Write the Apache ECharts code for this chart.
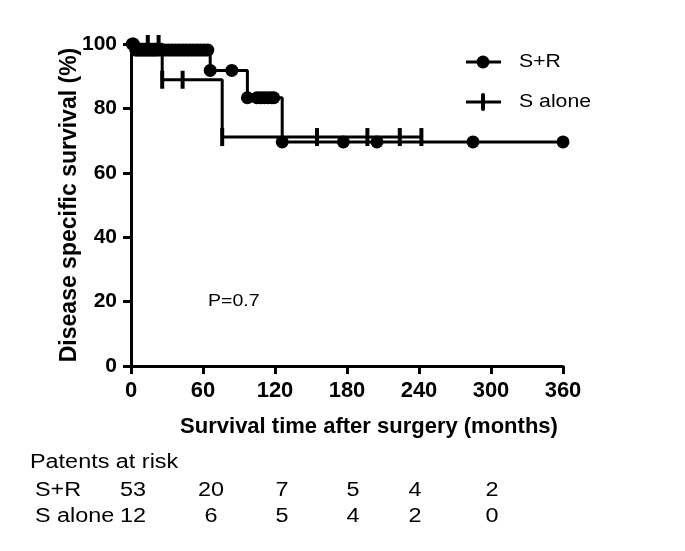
<!DOCTYPE html>
<html><head><meta charset="utf-8">
<script src="https://cdn.jsdelivr.net/npm/echarts@6/dist/echarts.min.js"></script>
<style>html,body{margin:0;padding:0;background:#fff}#c{width:685px;height:551px}</style>
</head><body><div id="c"></div>
<script>
// Kaplan-Meier step curves (time in months, survival in %)
var srTimes = [0, 3, 66, 97, 126, 360];
var srSurv  = [100, 98.1, 91.8, 83.3, 69.6, 69.6];
var saTimes = [0, 26, 76, 242];
var saSurv  = [100, 88.9, 71.1, 71.1];
// censor marks
var srCensorT = [1, 2, 4, 6, 8, 10, 12, 14, 16, 18, 20, 22, 25, 28, 31, 34, 37, 40, 43, 46, 49, 52, 55, 58, 61, 64, 66, 84, 97, 105, 108, 111, 114, 117, 119, 126, 177, 205, 285, 360];
var srCensorS = [100, 100, 98.1, 98.1, 98.1, 98.1, 98.1, 98.1, 98.1, 98.1, 98.1, 98.1, 98.1, 98.1, 98.1, 98.1, 98.1, 98.1, 98.1, 98.1, 98.1, 98.1, 98.1, 98.1, 98.1, 98.1, 91.8, 91.8, 83.3, 83.3, 83.3, 83.3, 83.3, 83.3, 83.3, 69.6, 69.6, 69.6, 69.6, 69.6];
var saCensorT = [14, 23, 26, 43, 76, 155, 197, 224, 242];
var saCensorS = [100, 100, 88.9, 88.9, 71.1, 71.1, 71.1, 71.1, 71.1];
// axes
var xTicks = [0, 60, 120, 180, 240, 300, 360];
var yTicks = [0, 20, 40, 60, 80, 100];
// risk table
var riskGroups = ['S+R', 'S alone'];
var riskSR = [53, 20, 7, 5, 4, 2];
var riskSA = [12, 6, 5, 4, 2, 0];
var groupNames = ['S+R', 'S alone'];
var pText = 'P=0.7';

function zip(a, b) { return a.map(function (v, i) { return [v, b[i]]; }); }

var chart = echarts.init(document.getElementById('c'));
var riskX = [133, 211, 282, 353, 415, 492];
var graphics = [];
// legend
graphics.push({type:'line', shape:{x1:466,y1:62,x2:501,y2:62}, style:{stroke:'#000',lineWidth:3}});
graphics.push({type:'circle', shape:{cx:483,cy:62,r:6.5}, style:{fill:'#000'}});
graphics.push({type:'text', x:519, y:62, scaleX:1.18, style:{text:groupNames[0], font:'18px "Liberation Sans", Arial, sans-serif', fill:'#000', textVerticalAlign:'middle'}});
graphics.push({type:'line', shape:{x1:466,y1:102,x2:501,y2:102}, style:{stroke:'#000',lineWidth:3}});
graphics.push({type:'rect', shape:{x:481,y:93,width:4,height:18,r:2}, style:{fill:'#000'}});
graphics.push({type:'text', x:519, y:102, scaleX:1.18, style:{text:groupNames[1], font:'18px "Liberation Sans", Arial, sans-serif', fill:'#000', textVerticalAlign:'middle'}});
// p value
graphics.push({type:'text', x:208, y:301, scaleX:1.15, style:{text:pText, font:'17px "Liberation Sans", Arial, sans-serif', fill:'#000', textVerticalAlign:'middle'}});
// risk table
var tf = '20px "Liberation Sans", Arial, sans-serif';
graphics.push({type:'text', x:30, y:462, scaleX:1.17, style:{text:'Patents at risk', font:tf, fill:'#000', textVerticalAlign:'middle'}});
graphics.push({type:'text', x:35, y:490, scaleX:1.17, style:{text:riskGroups[0], font:tf, fill:'#000', textVerticalAlign:'middle'}});
graphics.push({type:'text', x:35, y:516, scaleX:1.17, style:{text:riskGroups[1], font:tf, fill:'#000', textVerticalAlign:'middle'}});
riskSR.forEach(function (v, i) {
  graphics.push({type:'text', x:riskX[i], y:490, scaleX:1.17, style:{text:String(v), font:tf, fill:'#000', textAlign:'center', textVerticalAlign:'middle'}});
});
riskSA.forEach(function (v, i) {
  graphics.push({type:'text', x:riskX[i], y:516, scaleX:1.17, style:{text:String(v), font:tf, fill:'#000', textAlign:'center', textVerticalAlign:'middle'}});
});

var axisFont = {fontFamily:'"Liberation Sans", Arial, sans-serif', fontWeight:'bold', color:'#000'};
chart.setOption({
  animation: false,
  backgroundColor: '#fff',
  grid: {left:131, right:122, top:44, bottom:185, containLabel:false},
  xAxis: {
    type:'value', min:0, max:360, interval:60,
    axisLine:{show:true, onZero:false, lineStyle:{color:'#000', width:3}},
    axisTick:{show:true, length:8, lineStyle:{color:'#000', width:3}},
    splitLine:{show:false},
    axisLabel: Object.assign({fontSize:22, margin:14}, axisFont),
    name:'Survival time after surgery (months)', nameLocation:'middle', nameGap:50, nameMoveOverlap:false,
    nameTextStyle: Object.assign({fontSize:22, padding:[0,0,0,44]}, axisFont)
  },
  yAxis: {
    type:'value', min:0, max:100, interval:20,
    axisLine:{show:true, onZero:false, lineStyle:{color:'#000', width:3}},
    axisTick:{show:true, length:8, lineStyle:{color:'#000', width:3}},
    splitLine:{show:false},
    axisLabel: Object.assign({fontSize:21, margin:14}, axisFont),
    name:'Disease specific survival (%)', nameLocation:'middle', nameGap:50, nameMoveOverlap:false,
    nameTextStyle: Object.assign({fontSize:23}, axisFont)
  },
  series: [
    {name:'S+R', type:'line', step:'end', data:zip(srTimes, srSurv), showSymbol:false, symbol:'none',
     lineStyle:{color:'#000', width:3}, z:3},
    {name:'S alone', type:'line', step:'end', data:zip(saTimes, saSurv), showSymbol:false, symbol:'none',
     lineStyle:{color:'#000', width:3}, z:3},
    {name:'S+R censored', type:'scatter', data:zip(srCensorT, srCensorS), symbol:'circle', symbolSize:13,
     itemStyle:{color:'#000', opacity:1}, z:4},
    {name:'S alone censored', type:'scatter', data:zip(saCensorT, saCensorS), symbol:'rect', symbolSize:[4,18],
     itemStyle:{color:'#000', opacity:1}, z:4}
  ],
  graphic: graphics
});
</script>
</body></html>
